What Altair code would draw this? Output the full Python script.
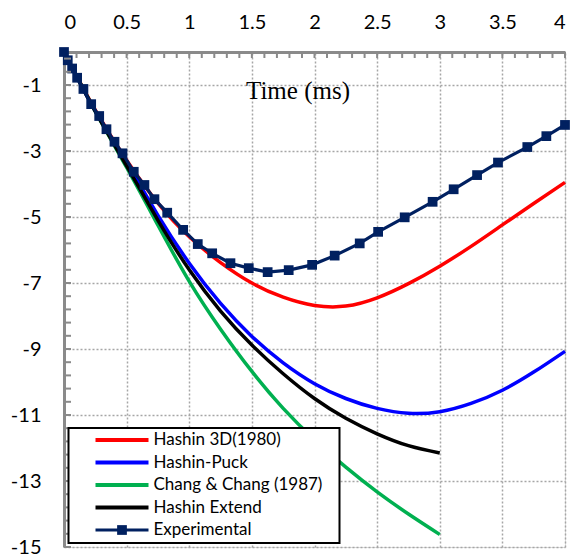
import altair as alt
import pandas as pd

series_names = ["Hashin 3D(1980)", "Hashin-Puck", "Chang & Chang (1987)", "Hashin Extend", "Experimental"]
series_colors = ["#FF0000", "#0000FF", "#00B050", "#000000", "#002060"]

# Model curves (time in ms, displacement)
red_x = [0, 0.25, 0.5, 0.75, 1.0, 1.25, 1.5, 1.75, 2.0, 2.25, 2.5, 2.75, 3.0, 3.25, 3.5, 3.75, 4.0]
red_y = [0, -1.76, -3.28, -4.58, -5.6, -6.38, -7.0, -7.43, -7.68, -7.7, -7.45, -7.02, -6.49, -5.89, -5.24, -4.59, -3.95]

blue_x = [0, 0.25, 0.5, 0.75, 1.0, 1.25, 1.5, 1.75, 2.0, 2.25, 2.5, 2.75, 3.0, 3.25, 3.5, 3.75, 4.0]
blue_y = [0, -1.8, -3.35, -4.95, -6.4, -7.62, -8.62, -9.42, -10.05, -10.5, -10.8, -10.95, -10.9, -10.65, -10.25, -9.7, -9.07]

green_x = [0, 0.25, 0.5, 0.75, 1.0, 1.25, 1.5, 1.75, 2.0, 2.25, 2.5, 2.75, 3.0]
green_y = [0, -1.8, -3.5, -5.25, -6.95, -8.4, -9.68, -10.8, -11.75, -12.58, -13.33, -14.0, -14.62]

black_x = [0, 0.25, 0.5, 0.75, 1.0, 1.25, 1.5, 1.75, 2.0, 2.25, 2.5, 2.75, 3.0]
black_y = [0, -1.8, -3.45, -5.1, -6.6, -7.85, -8.88, -9.75, -10.5, -11.1, -11.57, -11.93, -12.15]

exp_x = [0, 0.03, 0.065, 0.105, 0.155, 0.217, 0.281, 0.339, 0.403, 0.467, 0.557, 0.642, 0.722,
         0.824, 0.951, 1.068, 1.183, 1.329, 1.475, 1.626, 1.794, 1.981, 2.161, 2.361, 2.508,
         2.72, 2.943, 3.111, 3.298, 3.465, 3.699, 3.851, 4.0]
exp_y = [0, -0.25, -0.5, -0.78, -1.12, -1.58, -1.94, -2.34, -2.72, -3.07, -3.63, -4.03, -4.46,
         -4.87, -5.39, -5.82, -6.1, -6.4, -6.55, -6.67, -6.61, -6.45, -6.17, -5.8, -5.45,
         -5.01, -4.54, -4.16, -3.73, -3.35, -2.88, -2.55, -2.21]

x_labels = [0, 0.5, 1, 1.5, 2, 2.5, 3, 3.5, 4]
y_labels = [-15, -13, -11, -9, -7, -5, -3, -1]
x_minor = [round(0.1 * i, 1) for i in range(1, 41)]
y_minor = [round(-15 + 0.4 * i, 1) for i in range(0, 38)]

W, H = 501, 495
GRAY = "#8a8a8a"
FONT = "Lato"

xs = alt.Scale(domain=[0, 4], nice=False, zero=False)
ys = alt.Scale(domain=[-15, 0], nice=False, zero=False)

x_axis = alt.Axis(
    orient="top", values=x_labels, labelExpr="datum.value + ''",
    grid=True, gridDash=[2, 2], gridColor="#a6a6a6", gridWidth=1.5,
    domainColor=GRAY, domainWidth=3, ticks=False, tickSize=0,
    labelFont=FONT, labelFontSize=20, labelColor="black", labelPadding=24,
    labelBaseline="alphabetic",
    title="Time (ms)", titleFont="Liberation Serif", titleFontSize=25, titleFontWeight="normal",
    titleColor="black", titleX=233.5, titleY=46, titleBaseline="alphabetic", titleAlign="center",
    titleAnchor="start",
)
y_axis = alt.Axis(
    orient="left", values=y_labels, labelExpr="datum.value + ''",
    grid=True, gridDash=[2, 2], gridColor="#a6a6a6", gridWidth=1.5,
    domainColor=GRAY, domainWidth=3, ticks=False, tickSize=0,
    labelFont=FONT, labelFontSize=20, labelColor="black", labelPadding=23,
    labelBaseline="middle", title=None,
)

X = lambda f: alt.X(f, scale=xs, axis=x_axis)
Y = lambda f: alt.Y(f, scale=ys, axis=y_axis)

def curve(xv, yv, color, width=3.5):
    df = pd.DataFrame({"t": xv, "d": yv})
    return alt.Chart(df).mark_line(color=color, strokeWidth=width, interpolate="natural").encode(
        x=X("t:Q"), y=Y("d:Q"))

layers = [
    curve(red_x, red_y, series_colors[0]),
    curve(blue_x, blue_y, series_colors[1]),
    curve(green_x, green_y, series_colors[2]),
    curve(black_x, black_y, series_colors[3]),
]

exp_df = pd.DataFrame({"t": exp_x, "d": exp_y})
layers.append(alt.Chart(exp_df).mark_line(color=series_colors[4], strokeWidth=3.2).encode(
    x=X("t:Q"), y=Y("d:Q")))
layers.append(alt.Chart(exp_df).mark_square(color=series_colors[4], size=95, opacity=1).encode(
    x=X("t:Q"), y=Y("d:Q")))

# minor ticks (inside)
layers.append(alt.Chart(pd.DataFrame({"t": x_minor})).mark_rule(color=GRAY, strokeWidth=2).encode(
    x=X("t:Q"), y=alt.value(0), y2=alt.value(6)))
layers.append(alt.Chart(pd.DataFrame({"d": y_minor})).mark_rule(color=GRAY, strokeWidth=2).encode(
    y=Y("d:Q"), x=alt.value(0), x2=alt.value(7)))

# legend
one = pd.DataFrame({"a": [0]})
layers.append(alt.Chart(one).mark_rect(fill="white", stroke="black", strokeWidth=2).encode(
    x=alt.value(4.5), x2=alt.value(275.5), y=alt.value(376), y2=alt.value(491)))
for i, (name, col) in enumerate(zip(series_names, series_colors)):
    yy = 388 + 22.5 * i
    ldf = pd.DataFrame({"name": [name]})
    layers.append(alt.Chart(ldf).mark_rule(color=col, strokeWidth=4 if i < 4 else 3).encode(
        x=alt.value(31.5), x2=alt.value(84.5), y=alt.value(yy)))
    if i == 4:
        layers.append(alt.Chart(ldf).mark_square(color=col, size=95, opacity=1).encode(
            x=alt.value(58), y=alt.value(yy)))
    layers.append(alt.Chart(ldf).mark_text(align="left", baseline="middle", font=FONT,
                                           fontSize=17, color="black").encode(
        x=alt.value(89.5), y=alt.value(yy), text="name:N"))

chart = alt.layer(*layers).properties(
    width=W, height=H,
    autosize=alt.AutoSizeParams(type="none"),
    padding={"left": 64, "top": 52, "right": 10, "bottom": 11},
).configure_view(stroke=None).configure(background="white")

chart.save("out.html", embed_options={"renderer": "svg", "actions": False})
